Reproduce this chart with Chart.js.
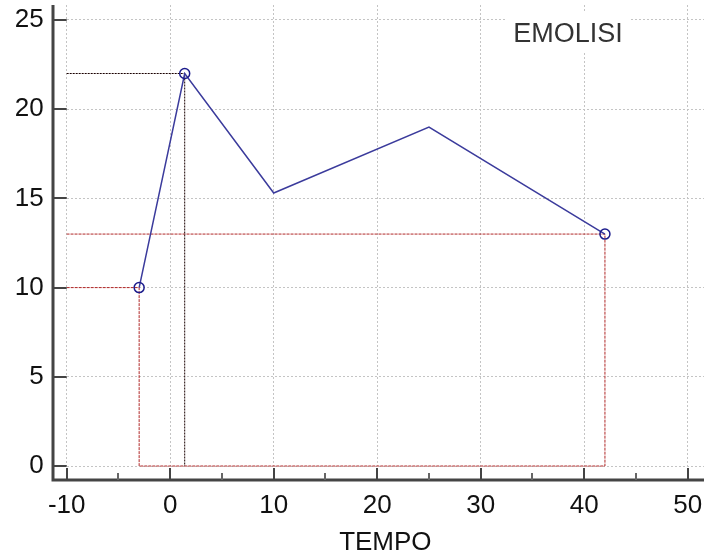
<!DOCTYPE html>
<html><head><meta charset="utf-8">
<script src="https://cdn.jsdelivr.net/npm/chart.js@4"></script>
<style>html,body{margin:0;padding:0;background:#fff;} #wrap{width:704px;height:558px;position:relative}</style>
</head><body><div id="wrap"><canvas id="c" width="704" height="558"></canvas></div>
<script>
// ---- data ----
const seriesName = 'EMOLISI';
const xTitle = 'TEMPO';
const tempo = [-3, 1.4, 10, 25, 42];
const emolisi = [10, 22, 15.3, 19, 13];
const markerRadius = [5, 5, 0, 0, 5];
const xTicks = [-10, 0, 10, 20, 30, 40, 50];
const xMinorTicks = [-5, 5, 15, 25, 35, 45];
const yTicks = [0, 5, 10, 15, 20, 25];
const xRange = [-10, 51.57];
const yRange = [0, 25.84];

const FONT = '"Liberation Sans", Arial, Helvetica, sans-serif';

const points = tempo.map((x, i) => ({x, y: emolisi[i]}));
const first = 0, last = tempo.length - 1;
let peak = 0; emolisi.forEach((v, i) => { if (v > emolisi[peak]) peak = i; });

const redGuide = [
  {x: xRange[0], y: emolisi[first]}, {x: tempo[first], y: emolisi[first]},
  {x: tempo[first], y: yRange[0]}, {x: tempo[last], y: yRange[0]},
  {x: tempo[last], y: emolisi[last]}, {x: xRange[0], y: emolisi[last]}
];
const peakGuide = [
  {x: xRange[0], y: emolisi[peak]}, {x: tempo[peak], y: emolisi[peak]},
  {x: tempo[peak], y: yRange[0]}
];

function noPad(s) { s.paddingTop = 0; s.paddingBottom = 0; s.paddingLeft = 0; s.paddingRight = 0; }

const axesPlugin = {
  id: 'axesPlugin',
  afterDatasetsDraw(chart) {
    const ctx = chart.ctx;
    ctx.save();
    ctx.fillStyle = '#ffffff';
    ctx.fillRect(505, 12, 125, 40);
    ctx.fillStyle = '#333333';
    ctx.font = '27px ' + FONT;
    ctx.textAlign = 'center';
    ctx.textBaseline = 'middle';
    ctx.fillText(seriesName, 568, 35);
    ctx.restore();
  },
  afterDraw(chart) {
    const {ctx, chartArea: a, scales: {x, y}} = chart;
    const axisY = 480, axisX = 53;
    ctx.save();
    ctx.strokeStyle = '#444444';
    ctx.lineWidth = 3;
    ctx.beginPath();
    ctx.moveTo(axisX - 1.5, axisY); ctx.lineTo(a.right, axisY);
    ctx.moveTo(axisX, a.top); ctx.lineTo(axisX, axisY + 1.5);
    ctx.stroke();
    ctx.lineWidth = 2;
    ctx.beginPath();
    yTicks.forEach(v => { const p = Math.round(y.getPixelForValue(v)); ctx.moveTo(axisX, p); ctx.lineTo(a.left, p); });
    xTicks.forEach(v => { const p = Math.round(x.getPixelForValue(v)); ctx.moveTo(p, a.bottom + 2); ctx.lineTo(p, axisY); });
    ctx.stroke();
    ctx.strokeStyle = '#666666';
    ctx.beginPath();
    xMinorTicks.forEach(v => { const p = Math.round(x.getPixelForValue(v)); ctx.moveTo(p, axisY - 7); ctx.lineTo(p, axisY); });
    ctx.stroke();
    ctx.restore();
  }
};

new Chart(document.getElementById('c'), {
  type: 'line',
  data: {
    datasets: [
      {data: redGuide, borderColor: '#b02828', borderWidth: 1, borderDash: [3, 1], pointRadius: 0, clip: false, order: 3},
      {data: peakGuide, borderColor: '#1a0000', borderWidth: 1, borderDash: [2, 1], pointRadius: 0, clip: false, order: 2},
      {label: seriesName, data: points, borderColor: '#3b3b9c', borderWidth: 1.5, tension: 0,
       pointRadius: markerRadius, pointBorderColor: '#1c1c8c', pointBackgroundColor: 'rgba(255,255,255,0)',
       pointBorderWidth: 1.5, clip: false, order: 1}
    ]
  },
  options: {
    responsive: false,
    animation: false,
    devicePixelRatio: 1,
    layout: {autoPadding: false, padding: {top: 5, right: 0, left: 0, bottom: 0}},
    plugins: {legend: {display: false}, tooltip: {enabled: false}},
    scales: {
      x: {
        type: 'linear', min: xRange[0], max: xRange[1],
        afterBuildTicks: s => { s.ticks = xTicks.map(v => ({value: v})); },
        afterFit: s => { s.height = 92; noPad(s); },
        grid: {color: '#c4c4c4', lineWidth: 1, drawTicks: false},
        border: {display: false, dash: [2, 2]},
        ticks: {color: '#111', font: {family: FONT, size: 26}, padding: 24, maxRotation: 0, autoSkip: false},
        title: {display: true, text: xTitle, color: '#111', font: {family: FONT, size: 26}, padding: {top: 0, bottom: 0}}
      },
      y: {
        type: 'linear', min: yRange[0], max: yRange[1],
        afterBuildTicks: s => { s.ticks = yTicks.map(v => ({value: v})); },
        afterFit: s => { s.width = 66.7; noPad(s); },
        grid: {color: '#c4c4c4', lineWidth: 1, drawTicks: false},
        border: {display: false, dash: [2, 2]},
        ticks: {color: '#111', font: {family: FONT, size: 26}, padding: 23, autoSkip: false}
      }
    }
  },
  plugins: [axesPlugin]
});
</script>
</body></html>
